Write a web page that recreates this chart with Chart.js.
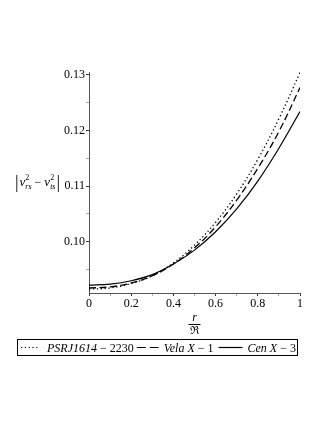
<!DOCTYPE html>
<html>
<head>
<meta charset="utf-8">
<script src="https://cdn.jsdelivr.net/npm/chart.js@4"></script>
<style>
  body { margin: 0; background: #fff; }
</style>
</head>
<body>
<canvas id="myChart" width="327" height="423"></canvas>
<script>
// r / R values along the x axis
const radius = [0, 0.1, 0.2, 0.3, 0.4, 0.5, 0.6, 0.7, 0.8, 0.9, 1];

// |v_rs^2 - v_ts^2|
const psrValues  = [0.0915, 0.0917, 0.0925, 0.0939, 0.0962, 0.0994, 0.1035, 0.1086, 0.1148, 0.1221, 0.1304];
const velaValues = [0.0917, 0.0919, 0.0926, 0.0939, 0.0960, 0.0989, 0.1027, 0.1075, 0.1132, 0.1198, 0.1277];
const cenValues  = [0.0922, 0.0924, 0.0930, 0.0941, 0.0960, 0.0985, 0.1018, 0.1059, 0.1109, 0.1168, 0.1234];

const xMajorTicks = [0, 0.2, 0.4, 0.6, 0.8, 1];
const xTickLabels = ["0", "0.2", "0.4", "0.6", "0.8", "1"];
const xMinorTicks = [0.1, 0.3, 0.5, 0.7, 0.9];

const yMajorTicks = [0.10, 0.11, 0.12, 0.13];
const yTickLabels = ["0.10", "0.11", "0.12", "0.13"];
const yMinorTicks = [0.095, 0.105, 0.115, 0.125];

const serif = "'Liberation Serif', 'Times New Roman', serif";

function toPoints(values) {
  return radius.map((r, i) => ({ x: r, y: values[i] }));
}

function labelFor(value, majors, labels) {
  const i = majors.findIndex(m => Math.abs(m - value) < 1e-6);
  return i >= 0 ? labels[i] : "";
}

// draw a row of text pieces, each with its own font and vertical shift
function drawRuns(ctx, runs, x, y) {
  runs.forEach(run => {
    if (run.stack) {
      // superscript and subscript on the same spot
      ctx.font = run.supFont;
      ctx.fillText(run.sup, x, y - 6);
      const w1 = ctx.measureText(run.sup).width;
      ctx.font = run.subFont;
      ctx.fillText(run.sub, x, y + 3);
      const w2 = ctx.measureText(run.sub).width;
      x += Math.max(w1, w2) + (run.gap || 0);
      return;
    }
    ctx.font = run.font;
    ctx.fillText(run.text, x, y + (run.dy || 0));
    x += ctx.measureText(run.text).width + (run.gap || 0);
  });
  return x;
}

function lineSample(ctx, x1, x2, y, dash) {
  ctx.save();
  ctx.strokeStyle = "#000";
  ctx.lineWidth = 1.2;
  ctx.setLineDash(dash);
  ctx.beginPath();
  ctx.moveTo(x1, y);
  ctx.lineTo(x2, y);
  ctx.stroke();
  ctx.restore();
}

const textPlugin = {
  id: "textPlugin",
  afterDraw(chart) {
    const ctx = chart.ctx;
    const area = chart.chartArea;
    ctx.save();
    ctx.fillStyle = "#000";
    ctx.textBaseline = "alphabetic";
    ctx.textAlign = "left";

    // y axis title |v_rs^2 - v_ts^2|
    drawRuns(ctx, [
      { text: "|", font: "18px " + serif, dy: 2, gap: 1 },
      { text: "v", font: "italic 13px " + serif },
      { stack: true, sup: "2", sub: "rs", supFont: "8px " + serif, subFont: "italic 8px " + serif },
      { text: " \u2212 ", font: "12px " + serif },
      { text: "v", font: "italic 13px " + serif },
      { stack: true, sup: "2", sub: "ts", supFont: "8px " + serif, subFont: "italic 8px " + serif, gap: 1 },
      { text: "|", font: "18px " + serif, dy: 2 }
    ], 15, 186);

    // x axis title r / R (fraktur)
    const cx = (area.left + area.right) / 2;
    ctx.textAlign = "center";
    ctx.font = "italic 12px " + serif;
    ctx.fillText("r", cx, 321);
    ctx.beginPath();
    ctx.strokeStyle = "#000";
    ctx.lineWidth = 1;
    ctx.moveTo(cx - 6, 324.5);
    ctx.lineTo(cx + 6, 324.5);
    ctx.stroke();
    ctx.font = "11px " + serif;
    ctx.fillText("\u211C", cx, 334);

    // legend box
    ctx.textAlign = "left";
    ctx.strokeRect(17.5, 339.5, 280, 16);
    const ly = 352;
    const mid = 347.5;
    lineSample(ctx, 21, 38, mid, [1.2, 2.6]);
    let x = drawRuns(ctx, [
      { text: "PSRJ1614", font: "italic 12px " + serif },
      { text: " \u2212 2230", font: "12px " + serif }
    ], 47, ly);
    lineSample(ctx, x + 3, x + 26, mid, [9, 4]);
    x = drawRuns(ctx, [
      { text: "Vela X", font: "italic 12px " + serif },
      { text: " \u2212 1", font: "12px " + serif }
    ], x + 30, ly);
    lineSample(ctx, x + 5, x + 29, mid, []);
    drawRuns(ctx, [
      { text: "Cen X", font: "italic 12px " + serif },
      { text: " \u2212 3", font: "12px " + serif }
    ], x + 34, ly);

    ctx.restore();
  }
};

const ctx = document.getElementById("myChart").getContext("2d");

new Chart(ctx, {
  type: "line",
  data: {
    datasets: [
      {
        label: "PSRJ1614 - 2230",
        data: toPoints(psrValues),
        borderColor: "#000",
        borderWidth: 1.3,
        borderDash: [1.3, 2.6],
        pointRadius: 0,
        tension: 0.4,
        fill: false
      },
      {
        label: "Vela X - 1",
        data: toPoints(velaValues),
        borderColor: "#000",
        borderWidth: 1.3,
        borderDash: [7, 3.5],
        pointRadius: 0,
        tension: 0.4,
        fill: false
      },
      {
        label: "Cen X - 3",
        data: toPoints(cenValues),
        borderColor: "#000",
        borderWidth: 1.2,
        pointRadius: 0,
        tension: 0.4,
        fill: false
      }
    ]
  },
  options: {
    responsive: false,
    animation: false,
    events: [],
    layout: {
      padding: { left: 0, right: 27, top: 72, bottom: 108 }
    },
    plugins: {
      legend: { display: false },
      tooltip: { enabled: false }
    },
    scales: {
      x: {
        type: "linear",
        min: 0,
        max: 1,
        afterBuildTicks(scale) {
          scale.ticks = xMajorTicks.concat(xMinorTicks).sort((a, b) => a - b).map(v => ({ value: v }));
        },
        afterFit(scale) {
          scale.height = 22;
        },
        ticks: {
          autoSkip: false,
          maxRotation: 0,
          padding: 1,
          color: "#000",
          font: { family: serif, size: 12 },
          callback: v => labelFor(v, xMajorTicks, xTickLabels)
        },
        grid: {
          display: true,
          drawOnChartArea: false,
          drawTicks: true,
          tickLength: 3,
          color: c => (c.tick && labelFor(c.tick.value, xMajorTicks, xTickLabels) ? "#333" : "#aaa")
        },
        border: { display: true, color: "#555", width: 1 }
      },
      y: {
        type: "linear",
        min: 0.0908,
        max: 0.1305,
        afterBuildTicks(scale) {
          scale.ticks = yMajorTicks.concat(yMinorTicks).sort((a, b) => a - b).map(v => ({ value: v }));
        },
        afterFit(scale) {
          scale.width = 89;
        },
        ticks: {
          autoSkip: false,
          padding: 1,
          color: "#000",
          font: { family: serif, size: 12 },
          callback: v => labelFor(v, yMajorTicks, yTickLabels)
        },
        grid: {
          display: true,
          drawOnChartArea: false,
          drawTicks: true,
          tickLength: 3,
          color: c => (c.tick && labelFor(c.tick.value, yMajorTicks, yTickLabels) ? "#333" : "#aaa")
        },
        border: { display: true, color: "#555", width: 1 }
      }
    }
  },
  plugins: [textPlugin]
});
</script>
</body>
</html>
